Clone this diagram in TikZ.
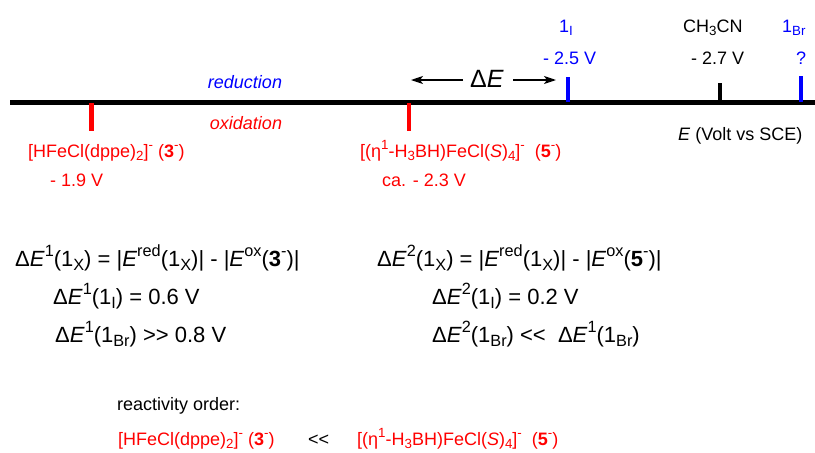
\documentclass[tikz,border=0pt]{standalone}
\usepackage{fontspec}
\setmainfont{Liberation Sans}
\usetikzlibrary{arrows.meta}
\definecolor{rd}{RGB}{255,0,0}
\definecolor{bl}{RGB}{0,0,255}
\makeatletter
\newcommand\Sb[1]{\raisebox{-0.22em}{\fontsize{\dimexpr0.74\dimexpr\f@size pt\relax\relax}{0pt}\selectfont #1}}
\newcommand\Sp[1]{\raisebox{0.42em}{\fontsize{\dimexpr0.74\dimexpr\f@size pt\relax\relax}{0pt}\selectfont #1}}
\makeatother
\begin{document}
\begin{tikzpicture}[x=1pt,y=-1pt,
  lbl/.style={font=\fontsize{18}{21}\selectfont, inner sep=0pt, anchor=base west},
  eqn/.style={font=\fontsize{22}{26}\selectfont, inner sep=0pt, anchor=base west},
  tickmark/.style={line width=4.4pt},
  arr/.style={line width=1.3pt, -{Stealth[length=12pt,width=8pt,inset=3pt]}},
]
\useasboundingbox (0,0) rectangle (815,453);
% axis
\coordinate (axL) at (10,102.7);
\coordinate (axR) at (815,102.7);
\draw[line width=4.6pt] (axL) -- (axR);
% ticks
\draw[tickmark,rd] (91.5,103) -- (91.5,131);
\draw[tickmark,rd] (409,103) -- (409,131);
\draw[tickmark,bl] (568,77) -- (568,102);
\draw[tickmark,bl] (801,76) -- (801,102);
\draw[line width=4pt] (719.5,83) -- (719.5,102);
% axis labels
\node[lbl,bl,font=\fontsize{18}{21}\selectfont\itshape,anchor=base] (red) at (245,88) {reduction};
\node[lbl,rd,font=\fontsize{18}{21}\selectfont\itshape,anchor=base] (ox) at (246,129) {oxidation};
\node[lbl] (axn) at (678,140) {\textit{E} (Volt vs SCE)};
% lower labels
\node[lbl,rd] (c3) at (28,157) {[HFeCl(dppe)\Sb{2}]\Sp{-} (\textbf{3}\Sp{-})};
\node[lbl,rd] (v3) at (50,186) {- 1.9 V};
\node[lbl,rd] (c5) at (360,157) {[(η\Sp{1}-H\Sb{3}BH)FeCl(\textit{S})\Sb{4}]\Sp{-}\ \ (\textbf{5}\Sp{-})};
\node[lbl,rd] (v5) at (382,186) {ca. - 2.3 V};
% upper labels
\node[lbl,bl] (n1I) at (559,32) {1\Sb{I}};
\node[lbl,bl] (v1I) at (543,64) {- 2.5 V};
\node[lbl] (ch) at (683,32) {CH\Sb{3}CN};
\node[lbl] (vch) at (691,64) {- 2.7 V};
\node[lbl,bl] (n1Br) at (782,32) {1\Sb{Br}};
\node[lbl,bl,anchor=base] (q) at (801,64) {?};
% Delta E with arrows
\node[inner sep=0pt,anchor=base,font=\fontsize{25}{28}\selectfont] (dE) at (487,87) {Δ\textit{E}};
\coordinate (aLs) at (463,80);
\coordinate (aLe) at (411,80);
\coordinate (aRs) at (513,80);
\coordinate (aRe) at (556,80);
\draw[arr] (aLs) -- (aLe);
\draw[arr] (aRs) -- (aRe);
% equations
\node[eqn] (e1a) at (15,266) {Δ\textit{E}\Sp{1}(1\Sb{X}) = |\textit{E}\Sp{red}(1\Sb{X})| - |\textit{E}\Sp{ox}(\textbf{3}\Sp{-})|};
\node[eqn] (e1b) at (53,304) {Δ\textit{E}\Sp{1}(1\Sb{I}) = 0.6 V};
\node[eqn] (e1c) at (55,342) {Δ\textit{E}\Sp{1}(1\Sb{Br}) >\kern0pt> 0.8 V};
\node[eqn] (e2a) at (377,266) {Δ\textit{E}\Sp{2}(1\Sb{X}) = |\textit{E}\Sp{red}(1\Sb{X})| - |\textit{E}\Sp{ox}(\textbf{5}\Sp{-})|};
\node[eqn] (e2b) at (432,304) {Δ\textit{E}\Sp{2}(1\Sb{I}) = 0.2 V};
\node[eqn] (e2c) at (432,342) {Δ\textit{E}\Sp{2}(1\Sb{Br}) <\kern0pt<\ \ Δ\textit{E}\Sp{1}(1\Sb{Br})};
% reactivity order
\node[lbl] (ro) at (117,410) {reactivity order:};
\node[lbl,rd] (b3) at (118,445) {[HFeCl(dppe)\Sb{2}]\Sp{-} (\textbf{3}\Sp{-})};
\node[lbl] (lt) at (308,445) {<\kern0pt<};
\node[lbl,rd] (b5) at (357,445) {[(η\Sp{1}-H\Sb{3}BH)FeCl(\textit{S})\Sb{4}]\Sp{-}\ \ (\textbf{5}\Sp{-})};
\end{tikzpicture}
\end{document}
